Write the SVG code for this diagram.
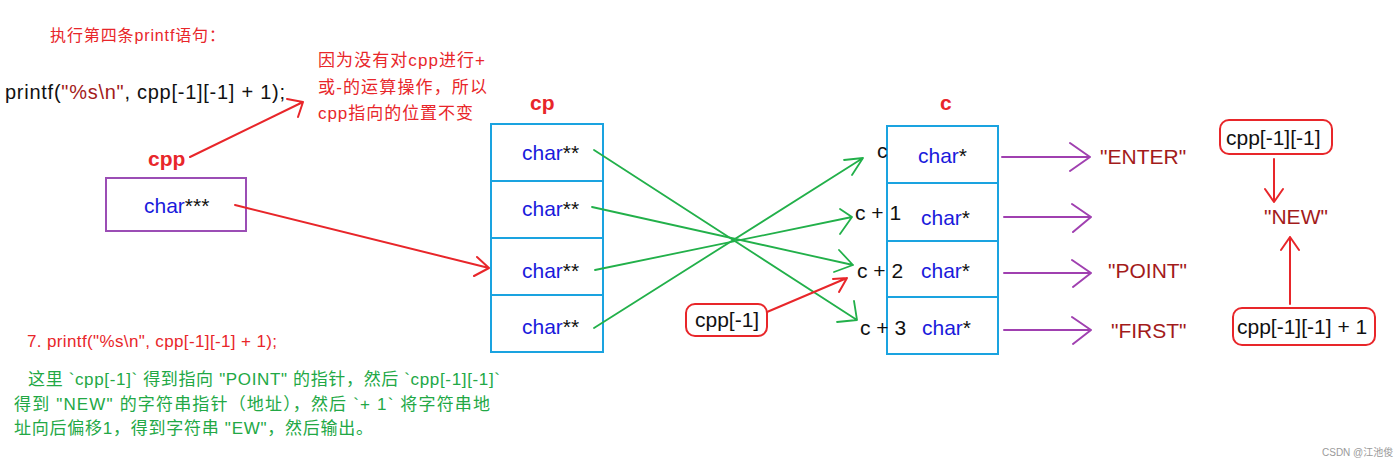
<svg xmlns="http://www.w3.org/2000/svg" width="1400" height="465" viewBox="0 0 1400 465">
<style>
text{font-family:"Liberation Sans","Noto Sans CJK SC",Arial,sans-serif}
.red{fill:#e8262a}
.dred{fill:#a31b1b}
.blk{fill:#111}
.blue{fill:#1a1adc}
.grn{fill:#22a845}
.lbl{font-size:21px;font-weight:bold;fill:#e8262a}
.cell{fill:#fff;stroke:#1aa3e0;stroke-width:2}
.ctext{font-size:21px}
.lab{font-size:21px}
.rl{stroke:#e8262a;stroke-width:2;fill:none;stroke-linecap:round;stroke-linejoin:round}
.gl{stroke:#22b04a;stroke-width:1.8;fill:none;stroke-linecap:round;stroke-linejoin:round}
.pl{stroke:#a040b0;stroke-width:2;fill:none;stroke-linecap:round;stroke-linejoin:round}
.rbox{fill:#fff;stroke:#e8262a;stroke-width:2}
</style>
<rect width="1400" height="465" fill="#fff"/>

<g id="texts">
<text x="50" y="41" font-size="16" class="red" textLength="175">执行第四条printf语句：</text>
<text x="5" y="99" font-size="20" class="blk" textLength="280">printf(<tspan class="dred">"%s\n"</tspan>, cpp[-1][-1] + 1);</text>
<text x="318" y="66" font-size="17" class="red" textLength="167">因为没有对cpp进行+</text>
<text x="318" y="93" font-size="17" class="red" textLength="169">或-的运算操作，所以</text>
<text x="318" y="119" font-size="17" class="red" textLength="155">cpp指向的位置不变</text>
<text x="27" y="347" font-size="17" class="red" textLength="250">7. printf("%s\n", cpp[-1][-1] + 1);</text>
<text x="28" y="385" font-size="17" class="grn" textLength="472">这里 `cpp[-1]` 得到指向 "POINT" 的指针，然后 `cpp[-1][-1]`</text>
<text x="14" y="410" font-size="17" class="grn" textLength="476">得到 "NEW" 的字符串指针（地址），然后 `+ 1` 将字符串地</text>
<text x="14" y="434" font-size="17" class="grn" textLength="359">址向后偏移1，得到字符串 "EW"，然后输出。</text>
<text x="1322" y="456" font-size="10" fill="#9a9a9a">CSDN @江池俊</text>
</g>

<g id="cpp">
<text x="148" y="166" class="lbl">cpp</text>
<rect x="106" y="178" width="140" height="53" fill="#fff" stroke="#9b4db5" stroke-width="2"/>
<text x="144" y="213" class="ctext"><tspan class="blue">char</tspan><tspan class="blk">***</tspan></text>
</g>

<g id="cp">
<text x="530" y="110" class="lbl">cp</text>
<rect class="cell" x="491" y="124" width="112" height="57"/>
<rect class="cell" x="491" y="181" width="112" height="57"/>
<rect class="cell" x="491" y="238" width="112" height="57"/>
<rect class="cell" x="491" y="295" width="112" height="57"/>
<text x="522" y="160" class="ctext"><tspan class="blue">char</tspan><tspan class="blk">**</tspan></text>
<text x="522" y="216" class="ctext"><tspan class="blue">char</tspan><tspan class="blk">**</tspan></text>
<text x="522" y="278" class="ctext"><tspan class="blue">char</tspan><tspan class="blk">**</tspan></text>
<text x="522" y="334" class="ctext"><tspan class="blue">char</tspan><tspan class="blk">**</tspan></text>
</g>

<g id="c">
<text x="940" y="110" class="lbl">c</text>
<rect class="cell" x="887" y="126" width="111" height="57"/>
<rect class="cell" x="887" y="183" width="111" height="58"/>
<rect class="cell" x="887" y="241" width="111" height="56"/>
<rect class="cell" x="887" y="297" width="111" height="57"/>
<text x="918" y="163" class="ctext"><tspan class="blue">char</tspan><tspan class="blk">*</tspan></text>
<text x="921" y="225" class="ctext"><tspan class="blue">char</tspan><tspan class="blk">*</tspan></text>
<text x="921" y="278" class="ctext"><tspan class="blue">char</tspan><tspan class="blk">*</tspan></text>
<text x="922" y="335" class="ctext"><tspan class="blue">char</tspan><tspan class="blk">*</tspan></text>
<text x="877" y="158" class="lab blk">c</text>
<text x="855" y="220" class="lab blk">c + 1</text>
<text x="857" y="278" class="lab blk">c + 2</text>
<text x="860" y="335" class="lab blk">c + 3</text>
</g>

<g id="strings">
<text x="1100" y="164" class="lab dred">"ENTER"</text>
<text x="1108" y="278" class="lab dred">"POINT"</text>
<text x="1111" y="338" class="lab dred">"FIRST"</text>
<text x="1264" y="224" class="lab dred">"NEW"</text>
</g>

<g id="cppm1">
<rect class="rbox" x="686" y="304" width="81" height="32" rx="9"/>
<text x="695" y="327" class="lab blk">cpp[-1]</text>
</g>

<g id="cppm1m1">
<rect class="rbox" x="1220" y="120" width="112" height="34" rx="9"/>
<text x="1226" y="145" class="lab blk">cpp[-1][-1]</text>
</g>

<g id="cppm1m1p1">
<rect class="rbox" x="1233" y="308" width="142" height="37" rx="9"/>
<text x="1237" y="334" class="lab blk">cpp[-1][-1] + 1</text>
</g>

<g id="connectors">
<path class="rl" d="M190 157 L303 102 M287 99 L303 102 L298 117"/>
<path class="rl" d="M235 205 L489 268 M477 257 L489 268 L474 276"/>
<path class="gl" d="M594 150 L857 320 M854 301 L857 320 L837 322"/>
<path class="gl" d="M592 207 L853 265 M839 250 L853 265 L834 272"/>
<path class="gl" d="M595 270 L852 217 M840 209 L852 217 L840 234"/>
<path class="gl" d="M594 328 L863 158 M844 160 L863 158 L852 175"/>
<path class="rl" d="M767 312 L847 278 M833 279 L847 278 L839 292"/>
<path class="pl" d="M1002 157 L1090 157 M1070 143 L1090 157 L1070 171"/>
<path class="pl" d="M1004 217 L1090 217 M1072 204 L1091 217 L1073 232"/>
<path class="pl" d="M1004 273 L1090 273 M1072 260 L1091 273 L1073 287"/>
<path class="pl" d="M1004 330 L1090 330 M1072 317 L1091 330 L1073 344"/>
<path class="rl" d="M1274 159 L1274 202 M1265 189 L1274 202 L1283 189"/>
<path class="rl" d="M1290 304 L1290 237 M1281 250 L1290 237 L1299 250"/>
</g>
</svg>
